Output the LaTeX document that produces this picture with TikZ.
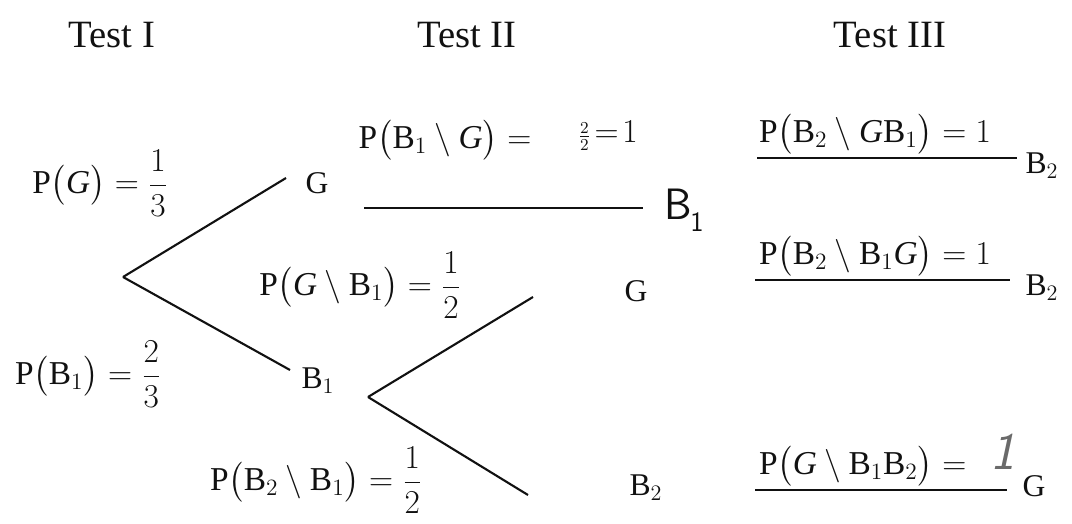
\RequirePackage{fix-cm}
\documentclass[tikz,border=0pt]{standalone}
\usepackage{amsmath,amssymb}
\usepackage{fontspec}
\setmainfont{Liberation Serif}
\usepackage{xcolor}
\usepackage{tikz}
\usetikzlibrary{positioning}
\definecolor{Ink}{HTML}{111111}
\definecolor{Pencil}{HTML}{6A6A6A}
\newcommand{\given}{\mathbin{\setminus}}
\newcommand{\headsz}{\fontsize{22}{26}\selectfont}
\newcommand{\eqsz}{\fontsize{19}{23}\selectfont}
\newcommand{\lblsz}{\fontsize{18}{22}\selectfont}
\newcommand{\handsz}{\fontsize{25}{28}\selectfont}

\begin{document}
\begin{tikzpicture}[x=0.02cm, y=-0.02cm, every node/.style={font=\eqsz, text=Ink, inner sep=1pt},
  branch/.style={draw=Ink, line width=1.2pt},
  rule/.style={draw=Ink, line width=1pt},
  lbl/.style={font=\lblsz},
  head/.style={font=\headsz},
  hand/.style={font=\handsz\sffamily}]
  \useasboundingbox (0,0) rectangle (1072,524);
  \node[head] (testI) at (112,35) {Test I};
  \node[head] (testII) at (467,35) {Test II};
  \node[head] (testIII) at (890,35) {Test III};

  \coordinate (root) at (123,277);
  \coordinate (toG) at (286,178);
  \coordinate (toB) at (290,370);
  \node[lbl] (g) at (317,183) {G};
  \node[lbl] (b) at (318,381) {B$_1$};
  \node (pG) at (100,183) {$\mathrm{P}\bigl(\mathit{G}\bigr)=\dfrac{1}{3}$};
  \node (pB) at (88,374) {$\mathrm{P}\bigl(\mathrm{B}_1\bigr)=\dfrac{2}{3}$};

  \coordinate (rootB) at (368,397);
  \coordinate (toGB) at (533,297);
  \coordinate (toBB) at (528,495);
  \node[lbl] (gB) at (636,291) {G};
  \node[lbl] (bB) at (646,488) {B$_2$};
  \node (pGB) at (360,285) {$\mathrm{P}\bigl(\mathit{G}\given\mathrm{B}_1\bigr)=\dfrac{1}{2}$};
  \node (pBB) at (316,480) {$\mathrm{P}\bigl(\mathrm{B}_2\given\mathrm{B}_1\bigr)=\dfrac{1}{2}$};

  \coordinate (gRuleL) at (364,208);
  \coordinate (gRuleR) at (643,208);
  \node[hand] (bHand) at (684,210) {B\kern-1pt\raisebox{-7pt}{\fontsize{16}{16}\selectfont 1}};
  \node (pBG) at (445,140) {$\mathrm{P}\bigl(\mathrm{B}_1\given \mathit{G}\bigr)=$};
  \node[anchor=west] (pBGval) at (576,136) {$\scriptstyle\frac{2}{2}\textstyle\!=\!1$};

  \coordinate (r1L) at (757,158);
  \coordinate (r1R) at (1017,158);
  \node[anchor=south west] (q1) at (757,156) {$\mathrm{P}\bigl(\mathrm{B}_2\given \mathit{G}\mathrm{B}_1\bigr)=1$};
  \node[lbl] (e1) at (1042,166) {B$_2$};

  \coordinate (r2L) at (755,280);
  \coordinate (r2R) at (1010,280);
  \node[anchor=south west] (q2) at (757,278) {$\mathrm{P}\bigl(\mathrm{B}_2\given \mathrm{B}_1\mathit{G}\bigr)=1$};
  \node[lbl] (e2) at (1042,288) {B$_2$};

  \coordinate (r3L) at (755,490);
  \coordinate (r3R) at (1007,490);
  \node[anchor=south west] (q3) at (757,488) {$\mathrm{P}\bigl(\mathit{G}\given \mathrm{B}_1\mathrm{B}_2\bigr)=$};
  \node[hand, text=Pencil, font=\fontsize{30}{32}\selectfont\sffamily\itshape] (oneHand) at (1003,452) {1};
  \node[lbl] (e3) at (1034,486) {G};

  \draw[branch] (root) -- (toG);
  \draw[branch] (root) -- (toB);
  \draw[branch] (rootB) -- (toGB);
  \draw[branch] (rootB) -- (toBB);
  \draw[rule] (gRuleL) -- (gRuleR);
  \draw[rule] (r1L) -- (r1R);
  \draw[rule] (r2L) -- (r2R);
  \draw[rule] (r3L) -- (r3R);
\end{tikzpicture}
\end{document}
